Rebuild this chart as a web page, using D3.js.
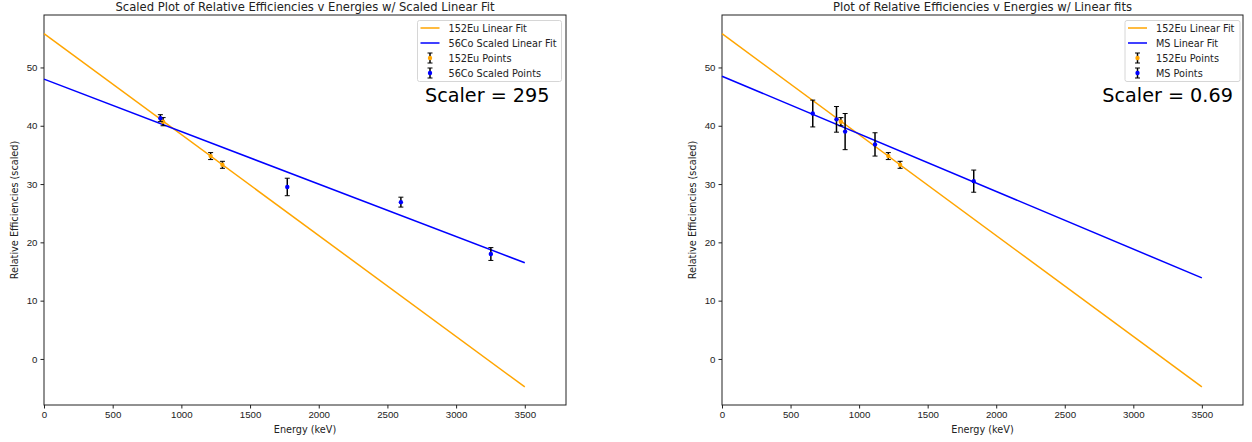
<!DOCTYPE html>
<html lang="en">
<head>
  <meta charset="UTF-8">
  <title>Relative Efficiencies v Energies</title>
  <script src="https://cdn.jsdelivr.net/npm/d3@7"></script>
  <style>
    body { margin: 0; background: #fff; }
    svg { display: block; font-family: "DejaVu Sans", sans-serif; }
    .axis path, .axis line { stroke: #222; }
    .axis text { fill: #222; font-size: 9.7px; }
  </style>
</head>
<body>
  <svg width="1252" height="442"></svg>
  <script>
    // axis setup
    var xTicks = [0, 500, 1000, 1500, 2000, 2500, 3000, 3500];
    var yTicks = [0, 10, 20, 30, 40, 50];
    var xLimits = [0, 3800];
    var yLimits = [-7.9, 59.0];

    // linear fits, evaluated at the two ends
    var fitEnergies = [0, 3500];
    var euFit = [55.8, -4.8];
    var coScaledFit = [48.0, 16.5];
    var msFit = [48.5, 13.9];

    // 152Eu points
    var euEnergies = [867, 1213, 1299];
    var euEff = [40.7, 34.8, 33.3];
    var euErr = [0.7, 0.6, 0.6];

    // 56Co scaled points
    var coEnergies = [847, 1771, 2598, 3253];
    var coEff = [41.3, 29.5, 26.9, 18.0];
    var coErr = [0.6, 1.5, 0.85, 1.1];

    // mixed source points
    var msEnergies = [662, 835, 898, 1116, 1836];
    var msEff = [42.1, 41.1, 39.0, 36.8, 30.5];
    var msErr = [2.3, 2.2, 3.1, 2.0, 1.9];

    var orange = "#ffa500";
    var blue = "#0000ff";

    var svg = d3.select("svg");

    function zip(xs, ys, es) {
      return xs.map(function(x, i) {
        return { x: x, y: ys[i], e: es ? es[i] : 0 };
      });
    }

    function drawPanel(opts) {
      var left = opts.left, right = opts.right, top = 15, bottom = 405;
      var x = d3.scaleLinear().domain(xLimits).range([left, right]);
      var y = d3.scaleLinear().domain(yLimits).range([bottom, top]);
      var g = svg.append("g");

      // title
      g.append("text")
        .attr("x", (left + right) / 2)
        .attr("y", 10.5)
        .attr("text-anchor", "middle")
        .style("font-size", "11.6px")
        .style("fill", "#222")
        .text(opts.title);

      // axes
      g.append("g").attr("class", "axis")
        .attr("transform", "translate(0," + bottom + ")")
        .call(d3.axisBottom(x).tickValues(xTicks).tickSize(3.5).tickPadding(3).tickFormat(d3.format("d")))
        .call(function(a) { a.select(".domain").remove(); });
      g.append("g").attr("class", "axis")
        .attr("transform", "translate(" + left + ",0)")
        .call(d3.axisLeft(y).tickValues(yTicks).tickSize(3.5).tickPadding(3).tickFormat(d3.format("d")))
        .call(function(a) { a.select(".domain").remove(); });

      // frame
      g.append("rect")
        .attr("x", left).attr("y", top)
        .attr("width", right - left).attr("height", bottom - top)
        .attr("fill", "none").attr("stroke", "#222").attr("stroke-width", 1);

      // axis labels
      g.append("text")
        .attr("x", (left + right) / 2)
        .attr("y", 433)
        .attr("text-anchor", "middle")
        .style("font-size", "9.7px").style("fill", "#222")
        .text("Energy (keV)");
      g.append("text")
        .attr("transform", "translate(" + (left - 26) + "," + ((top + bottom) / 2) + ") rotate(-90)")
        .attr("text-anchor", "middle")
        .style("font-size", "9.7px").style("fill", "#222")
        .text("Relative Efficiencies (scaled)");

      var line = d3.line().x(function(d) { return x(d.x); }).y(function(d) { return y(d.y); });

      // fit lines
      g.append("path").datum(zip(fitEnergies, euFit))
        .attr("d", line).attr("fill", "none").attr("stroke", orange).attr("stroke-width", 1.5);
      g.append("path").datum(zip(fitEnergies, opts.fit))
        .attr("d", line).attr("fill", "none").attr("stroke", blue).attr("stroke-width", 1.5);

      // error bar points
      function errorPoints(data, color) {
        var pts = g.append("g").selectAll("g").data(data).enter().append("g");
        pts.append("line")
          .attr("x1", function(d) { return x(d.x); }).attr("x2", function(d) { return x(d.x); })
          .attr("y1", function(d) { return y(d.y - d.e); }).attr("y2", function(d) { return y(d.y + d.e); })
          .attr("stroke", "#000").attr("stroke-width", 1.5);
        [-1, 1].forEach(function(s) {
          pts.append("line")
            .attr("x1", function(d) { return x(d.x) - 2.5; }).attr("x2", function(d) { return x(d.x) + 2.5; })
            .attr("y1", function(d) { return y(d.y + s * d.e); }).attr("y2", function(d) { return y(d.y + s * d.e); })
            .attr("stroke", "#000").attr("stroke-width", 1);
        });
        pts.append("circle")
          .attr("cx", function(d) { return x(d.x); }).attr("cy", function(d) { return y(d.y); })
          .attr("r", 2.2).attr("fill", color);
      }
      errorPoints(zip(euEnergies, euEff, euErr), orange);
      errorPoints(zip(opts.energies, opts.eff, opts.err), blue);

      // legend
      var lx = opts.legendX, ly = 20.5;
      var lg = g.append("g").attr("transform", "translate(" + lx + "," + ly + ")");
      lg.append("rect")
        .attr("width", opts.legendW).attr("height", 61).attr("rx", 2)
        .attr("fill", "#fff").attr("fill-opacity", 0.8)
        .attr("stroke", "#d6d6d6").attr("stroke-width", 1);
      var labels = ["152Eu Linear Fit", opts.fitLabel, "152Eu Points", opts.pointLabel];
      var colors = [orange, blue, orange, blue];
      labels.forEach(function(lab, i) {
        var cy = 7.5 + i * 15;
        if (i < 2) {
          lg.append("line").attr("x1", 3).attr("x2", 22).attr("y1", cy).attr("y2", cy)
            .attr("stroke", colors[i]).attr("stroke-width", 1.5);
        } else {
          lg.append("line").attr("x1", 12.5).attr("x2", 12.5).attr("y1", cy - 5).attr("y2", cy + 5)
            .attr("stroke", "#000").attr("stroke-width", 1.5);
          lg.append("line").attr("x1", 10).attr("x2", 15).attr("y1", cy - 5).attr("y2", cy - 5).attr("stroke", "#000");
          lg.append("line").attr("x1", 10).attr("x2", 15).attr("y1", cy + 5).attr("y2", cy + 5).attr("stroke", "#000");
          lg.append("circle").attr("cx", 12.5).attr("cy", cy).attr("r", 2.2).attr("fill", colors[i]);
        }
        lg.append("text").attr("x", 31).attr("y", cy + 3.5)
          .style("font-size", "9.7px").style("fill", "#222").text(lab);
      });

      // scaler annotation, placed in axes fraction
      g.append("text")
        .attr("x", left + 0.73 * (right - left))
        .attr("y", 102)
        .attr("text-anchor", "start")
        .style("font-size", "19.2px").style("fill", "#000")
        .text(opts.scaler);
    }

    drawPanel({
      left: 44, right: 566,
      title: "Scaled Plot of Relative Efficiencies v Energies w/ Scaled Linear Fit",
      fit: coScaledFit, energies: coEnergies, eff: coEff, err: coErr,
      fitLabel: "56Co Scaled Linear Fit", pointLabel: "56Co Scaled Points",
      legendX: 417.5, legendW: 144,
      scaler: "Scaler = 295"
    });
    drawPanel({
      left: 722, right: 1243,
      title: "Plot of Relative Efficiencies v Energies w/ Linear fits",
      fit: msFit, energies: msEnergies, eff: msEff, err: msErr,
      fitLabel: "MS Linear Fit", pointLabel: "MS Points",
      legendX: 1125, legendW: 115,
      scaler: "Scaler = 0.69"
    });
  </script>
</body>
</html>
